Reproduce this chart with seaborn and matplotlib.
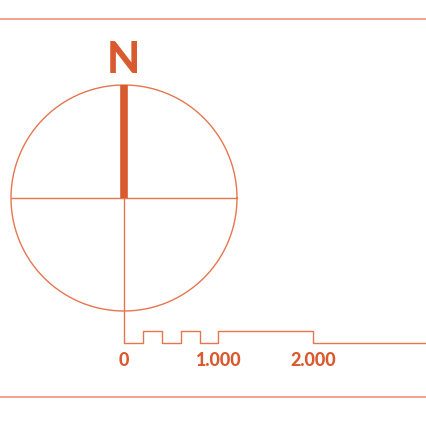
import matplotlib
matplotlib.use('Agg')
import matplotlib.pyplot as plt
import seaborn as sns
import numpy as np
import pandas as pd

# scale bar data (metres)
bar_edges = [0, 200, 400, 600, 800, 1000, 2000, 3200]
bar_state = [0, 1, 0, 1, 0, 1, 0, 0]   # 1 = raised block
tick_values = [0, 1000, 2000]
tick_labels = ['0', '1.000', '2.000']
north_label = 'N'

LINE = '#E5764F'
DARK = '#D95A2F'
RULE = '#EE9475'

sns.set_theme(style='white')
plt.rcParams['font.family'] = ['Lato', 'DejaVu Sans']

fig = plt.figure(figsize=(4.27, 4.30), dpi=100)
ax = fig.add_axes([0, 0, 1, 1])

# layout in pixels
cx, cy, r = 124, 198, 113
x0, px_per_m = 124, 94.5 / 1000
base_y, high_y = 343, 331

# top and bottom rules
ax.axhline(19, color=RULE, lw=1.2)
ax.axhline(397, color=RULE, lw=1.2)

# compass circle and cross
t = np.linspace(0, 2 * np.pi, 400)
ax.plot(cx + r * np.cos(t), cy + r * np.sin(t), color=LINE, lw=1.0)
ax.plot([cx - r, cx + r], [cy, cy], color=LINE, lw=1.0)
ax.plot([cx, cx], [cy, base_y], color=LINE, lw=1.0)
ax.plot([cx, cx], [cy - r, cy], color=DARK, lw=5.5, solid_capstyle='butt')
ax.text(cx - 0.5, cy - r - 25, north_label, color=DARK, fontsize=31, fontweight='black',
        ha='center', va='center')

# scale bar as step line
df = pd.DataFrame({
    'x': [x0 + e * px_per_m for e in bar_edges],
    'y': [high_y if s else base_y for s in bar_state],
})
sns.lineplot(data=df, x='x', y='y', drawstyle='steps-post', color=LINE, lw=1.0,
             ax=ax, estimator=None, sort=False)
ax.set_xlim(0, 427)
ax.set_ylim(430, 0)
ax.axis('off')

for v, lab in zip(tick_values, tick_labels):
    ax.text(x0 + v * px_per_m, 360, lab, color=DARK, fontsize=13, fontweight='black',
            ha='center', va='center')

fig.savefig('out.png', dpi=100, facecolor='white')
